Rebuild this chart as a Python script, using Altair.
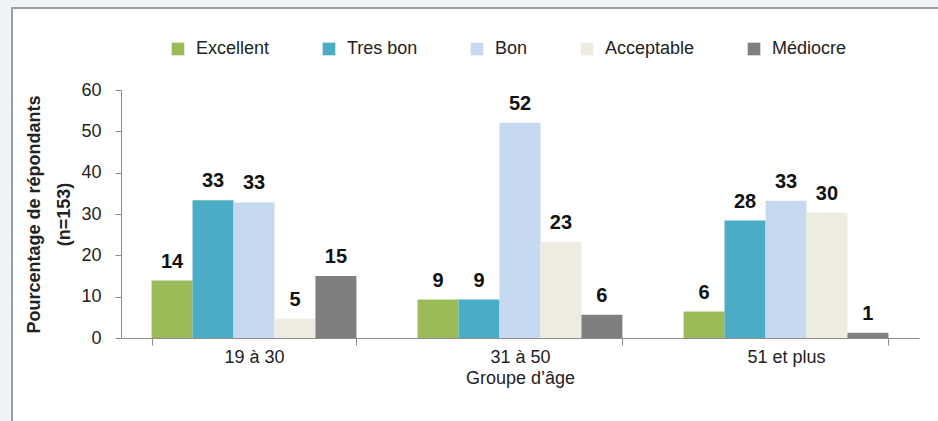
import altair as alt
import pandas as pd

groupes = ["19 à 30", "31 à 50", "51 et plus"]
niveaux = ["Excellent", "Tres bon", "Bon", "Acceptable", "Médiocre"]
couleurs = ["#9BBB59", "#4BACC6", "#C6D9F1", "#EEECE1", "#7F7F7F"]

val_19_30 = [13.9, 33.3, 32.8, 4.7, 15.0]
val_31_50 = [9.3, 9.3, 52.1, 23.3, 5.6]
val_51_plus = [6.4, 28.4, 33.2, 30.3, 1.3]

rows = []
for g, vals in zip(groupes, [val_19_30, val_31_50, val_51_plus]):
    for n, v in zip(niveaux, vals):
        rows.append({"groupe": g, "niveau": n, "valeur": v})
df = pd.DataFrame(rows)

FONT = "Liberation Sans"

x_enc = alt.X(
    "groupe:N",
    sort=groupes,
    scale=alt.Scale(paddingInner=0.23, paddingOuter=0.115),
    axis=alt.Axis(
        title="Groupe d’âge",
        labelAngle=0,
        tickBand="extent",
        tickSize=7,
        labelPadding=3,
        titlePadding=3,
        zindex=1,
    ),
)
xoff_enc = alt.XOffset(
    "niveau:N", sort=niveaux, scale=alt.Scale(paddingInner=0, paddingOuter=0)
)
y_enc = alt.Y(
    "valeur:Q",
    scale=alt.Scale(domain=[0, 60], nice=False),
    axis=alt.Axis(
        title=["Pourcentage de répondants", "(n=153)"],
        values=[0, 10, 20, 30, 40, 50, 60],
        grid=False,
        tickSize=6,
        labelPadding=14,
        titleFontWeight="bold",
        titleFontSize=18,
        titleLineHeight=30,
        titleX=-82,
        titleY=124,
        titleAngle=-90,
        titleAlign="center",
        titleBaseline="alphabetic",
        zindex=1,
    ),
)

frame = alt.Chart(pd.DataFrame({"k": [0]})).mark_rect(
    fill="white", stroke="#9e9e9e", strokeWidth=2
).encode(
    x=alt.value(-109), x2=alt.value(840), y=alt.value(-82), y2=alt.value(350)
)

bars = alt.Chart(df).mark_bar().encode(
    x=x_enc,
    xOffset=xoff_enc,
    y=y_enc,
    color=alt.Color(
        "niveau:N",
        sort=niveaux,
        scale=alt.Scale(domain=niveaux, range=couleurs),
        legend=alt.Legend(
            title=None,
            orient="none",
            direction="horizontal",
            legendX=48,
            legendY=-50,
            symbolType="square",
            symbolSize=160,
            symbolStrokeWidth=0,
            labelFontSize=18,
            labelOffset=9,
            columnPadding=50,
            labelColor="#222222",
            labelFont=FONT,
        ),
    ),
)

labels = alt.Chart(df).mark_text(
    dy=-13, baseline="alphabetic", fontSize=20, fontWeight="bold", font=FONT, color="#111111"
).encode(
    x=alt.X("groupe:N", sort=groupes),
    xOffset=alt.XOffset("niveau:N", sort=niveaux),
    y=alt.Y("valeur:Q"),
    text=alt.Text("valeur:Q", format=".0f"),
)

chart = alt.layer(frame, bars, labels).properties(
    width=798,
    height=248,
    autosize=alt.AutoSizeParams(type="none"),
    padding={"left": 121, "top": 90, "right": 19, "bottom": 83},
    background="#eef3f8",
).configure_view(
    stroke=None
).configure_axis(
    labelFont=FONT,
    titleFont=FONT,
    labelFontSize=18,
    titleFontSize=18,
    labelColor="#222222",
    titleColor="#222222",
    domainColor="#8c8c8c",
    tickColor="#8c8c8c",
    titleFontWeight="normal",
    zindex=1,
)

chart.save("out.html", embed_options={"renderer": "svg", "actions": False})
